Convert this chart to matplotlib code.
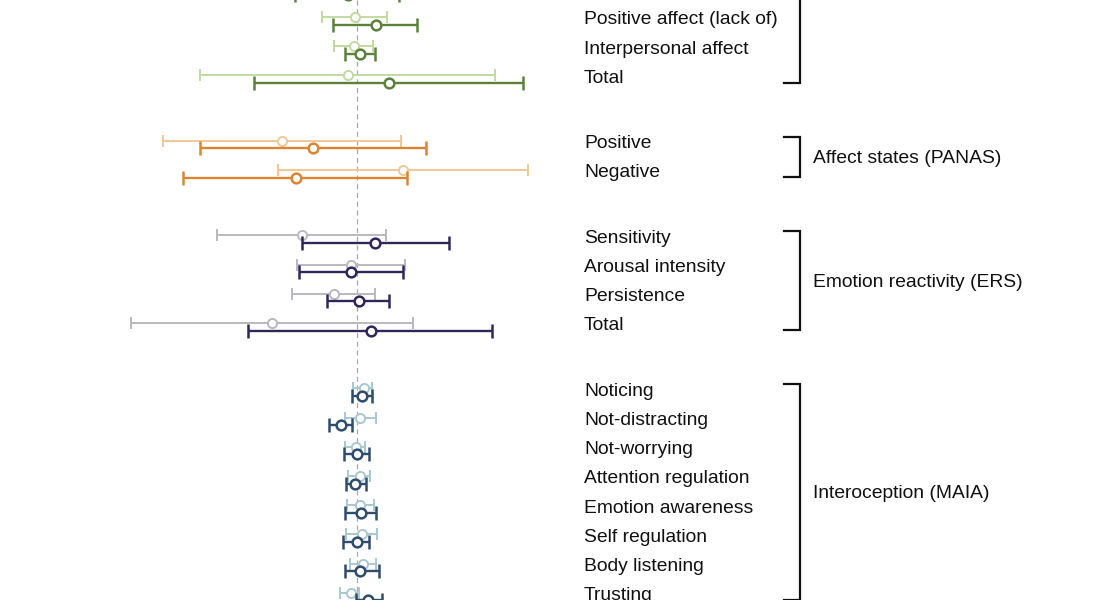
import matplotlib
matplotlib.use("Agg")
import matplotlib.pyplot as plt
import numpy as np

plt.rcParams['font.family'] = ['Liberation Sans', 'DejaVu Sans']

# ---------------- data (effect estimates with lower / upper bounds) ----------------
# first group's title and first row label lie above the visible crop
groups = ["", "Affect states (PANAS)", "Emotion reactivity (ERS)", "Interoception (MAIA)"]
group_rows = [
    ["", "Positive affect (lack of)", "Interpersonal affect", "Total"],
    ["Positive", "Negative"],
    ["Sensitivity", "Arousal intensity", "Persistence", "Total"],
    ["Noticing", "Not-distracting", "Not-worrying", "Attention regulation",
     "Emotion awareness", "Self regulation", "Body listening", "Trusting"],
]

# light series (first condition)
light_mean = [
    [-0.10, -0.02, -0.03, -0.09],
    [-0.75, 0.46],
    [-0.55, -0.06, -0.23, -0.85],
    [0.07, 0.03, -0.01, 0.03, 0.03, 0.05, 0.06, -0.06],
]
light_lo = [
    [-0.50, -0.35, -0.23, -1.57],
    [-1.94, -0.79],
    [-1.40, -0.60, -0.65, -2.26],
    [-0.04, -0.12, -0.12, -0.09, -0.10, -0.11, -0.07, -0.17],
]
light_hi = [
    [0.30, 0.30, 0.16, 1.38],
    [0.44, 1.71],
    [0.29, 0.48, 0.18, 0.56],
    [0.15, 0.19, 0.08, 0.13, 0.17, 0.20, 0.19, 0.02],
]
# dark series (second condition)
dark_mean = [
    [-0.09, 0.19, 0.03, 0.32],
    [-0.44, -0.61],
    [0.18, -0.06, 0.02, 0.14],
    [0.05, -0.16, 0.00, -0.02, 0.04, 0.00, 0.03, 0.11],
]
dark_lo = [
    [-0.62, -0.24, -0.12, -1.03],
    [-1.57, -1.74],
    [-0.55, -0.58, -0.30, -1.09],
    [-0.05, -0.28, -0.13, -0.11, -0.12, -0.14, -0.12, -0.01],
]
dark_hi = [
    [0.42, 0.60, 0.18, 1.66],
    [0.69, 0.50],
    [0.92, 0.46, 0.32, 1.35],
    [0.15, -0.05, 0.12, 0.09, 0.19, 0.12, 0.22, 0.25],
]

light_colors = ["#c0dba0", "#f1c795", "#b9b9bf", "#a9c8cf"]
dark_colors = ["#5a823a", "#db8530", "#30265a", "#2f4c6c"]

# ---------------- layout ----------------
fig = plt.figure(figsize=(10.95, 6.0), dpi=100)
ax = fig.add_axes([0, 0, 1, 1])
ax.set_xlim(-3.57, 7.38)
ax.set_ylim(600, 0)
ax.axis('off')

row_step = 29.2
group_gap = 36.2
y0 = 20.7 - row_step  # first row sits above the visible area
pair_off = 3.8

label_x = 2.27
br_x = 4.425
br_tick = 4.265
glabel_x = 4.56
fs = 13.9

ax.axvline(0, color="#a9a9a9", lw=0.9, ls=(0, (4, 3)), zorder=0)

idx = 0
for g, rows in enumerate(group_rows):
    ys = []
    for r, name in enumerate(rows):
        y = y0 + idx * row_step + g * group_gap
        ys.append(y)
        idx += 1
        lm, ll, lh = light_mean[g][r], light_lo[g][r], light_hi[g][r]
        dm, dl, dh = dark_mean[g][r], dark_lo[g][r], dark_hi[g][r]
        ax.errorbar([lm], [y - pair_off], xerr=[[lm - ll], [lh - lm]], fmt='o',
                    color=light_colors[g], ecolor=light_colors[g], elinewidth=1.4,
                    capsize=4.6, capthick=1.4, markersize=6.6, markerfacecolor='white',
                    markeredgecolor=light_colors[g], markeredgewidth=1.4, zorder=2)
        ax.errorbar([dm], [y + pair_off], xerr=[[dm - dl], [dh - dm]], fmt='o',
                    color=dark_colors[g], ecolor=dark_colors[g], elinewidth=1.7,
                    capsize=5.0, capthick=1.7, markersize=7.0, markerfacecolor='white',
                    markeredgecolor=dark_colors[g], markeredgewidth=1.8, zorder=3)
        if name:
            ax.text(label_x, y - 0.8, name, fontsize=fs, va='center', ha='left',
                    color='#111111')
    top = ys[0] - 8
    bot = ys[-1] + 3.5
    ax.plot([br_tick, br_x, br_x, br_tick], [top, top, bot, bot], color='#111111',
            lw=1.6, solid_joinstyle='miter', zorder=2)
    if groups[g]:
        ax.text(glabel_x, (ys[0] + ys[-1]) / 2 - 0.3, groups[g], fontsize=fs,
                va='center', ha='left', color='#111111')

fig.savefig("out.png", dpi=100, facecolor='white')
